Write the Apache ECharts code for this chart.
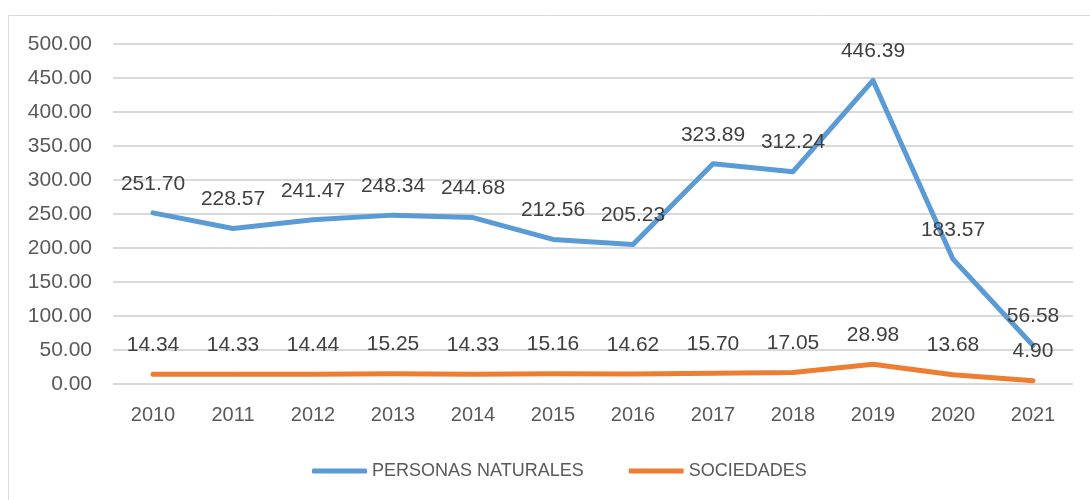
<!DOCTYPE html>
<html>
<head>
<meta charset="utf-8">
<script src="https://cdn.jsdelivr.net/npm/echarts@6/dist/echarts.min.js"></script>
<style>
  html, body { margin: 0; padding: 0; background: #fff; }
  #chart { width: 1090px; height: 500px; }
</style>
</head>
<body>
<div id="chart"></div>
<script>
// datos
const years = ['2010', '2011', '2012', '2013', '2014', '2015', '2016', '2017', '2018', '2019', '2020', '2021']
const personasNaturales = [251.70, 228.57, 241.47, 248.34, 244.68, 212.56, 205.23, 323.89, 312.24, 446.39, 183.57, 56.58]
const sociedades = [14.34, 14.33, 14.44, 15.25, 14.33, 15.16, 14.62, 15.70, 17.05, 28.98, 13.68, 4.90]

const font = 'Liberation Sans'
const textColor = '#595959'

let myChart = echarts.init(document.getElementById('chart'))

let option = {
  animation: false,
  textStyle: { fontFamily: font },
  graphic: [
    {
      // marco del grafico
      type: 'rect',
      shape: { x: 8.5, y: 15.5, width: 1200, height: 600 },
      style: { fill: 'none', stroke: '#d9d9d9', lineWidth: 1 },
      silent: true
    }
  ],
  grid: {
    left: 113,
    right: 17,
    top: 44,
    bottom: 116
  },
  legend: {
    left: 307,
    top: 457,
    itemWidth: 55,
    itemHeight: 5,
    itemGap: 45,
    textStyle: { color: textColor, fontSize: 18, fontFamily: font },
    data: [
      { name: 'PERSONAS NATURALES', icon: 'roundRect' },
      { name: 'SOCIEDADES', icon: 'roundRect' }
    ]
  },
  xAxis: {
    type: 'category',
    data: years,
    axisLine: { show: false },
    axisTick: { show: false },
    axisLabel: { color: textColor, fontSize: 20, margin: 21 }
  },
  yAxis: {
    type: 'value',
    min: 0,
    max: 500,
    interval: 50,
    axisLabel: {
      color: textColor,
      fontSize: 21,
      margin: 21,
      formatter: v => v.toFixed(2)
    },
    splitLine: { lineStyle: { color: '#d9d9d9', width: 2 } }
  },
  series: [
    {
      name: 'PERSONAS NATURALES',
      type: 'line',
      data: personasNaturales,
      symbol: 'circle',
      symbolSize: 1,
      lineStyle: { color: '#5b9bd5', width: 5, cap: 'round', join: 'round' },
      itemStyle: { color: '#5b9bd5' },
      label: {
        show: true,
        position: 'top',
        distance: 18,
        color: '#404040',
        fontSize: 21,
        formatter: p => p.value.toFixed(2)
      }
    },
    {
      name: 'SOCIEDADES',
      type: 'line',
      data: sociedades,
      symbol: 'circle',
      symbolSize: 1,
      lineStyle: { color: '#ed7d31', width: 5, cap: 'round', join: 'round' },
      itemStyle: { color: '#ed7d31' },
      label: {
        show: true,
        position: 'top',
        distance: 18,
        color: '#404040',
        fontSize: 21,
        formatter: p => p.value.toFixed(2)
      }
    }
  ]
}

myChart.setOption(option)
</script>
</body>
</html>
